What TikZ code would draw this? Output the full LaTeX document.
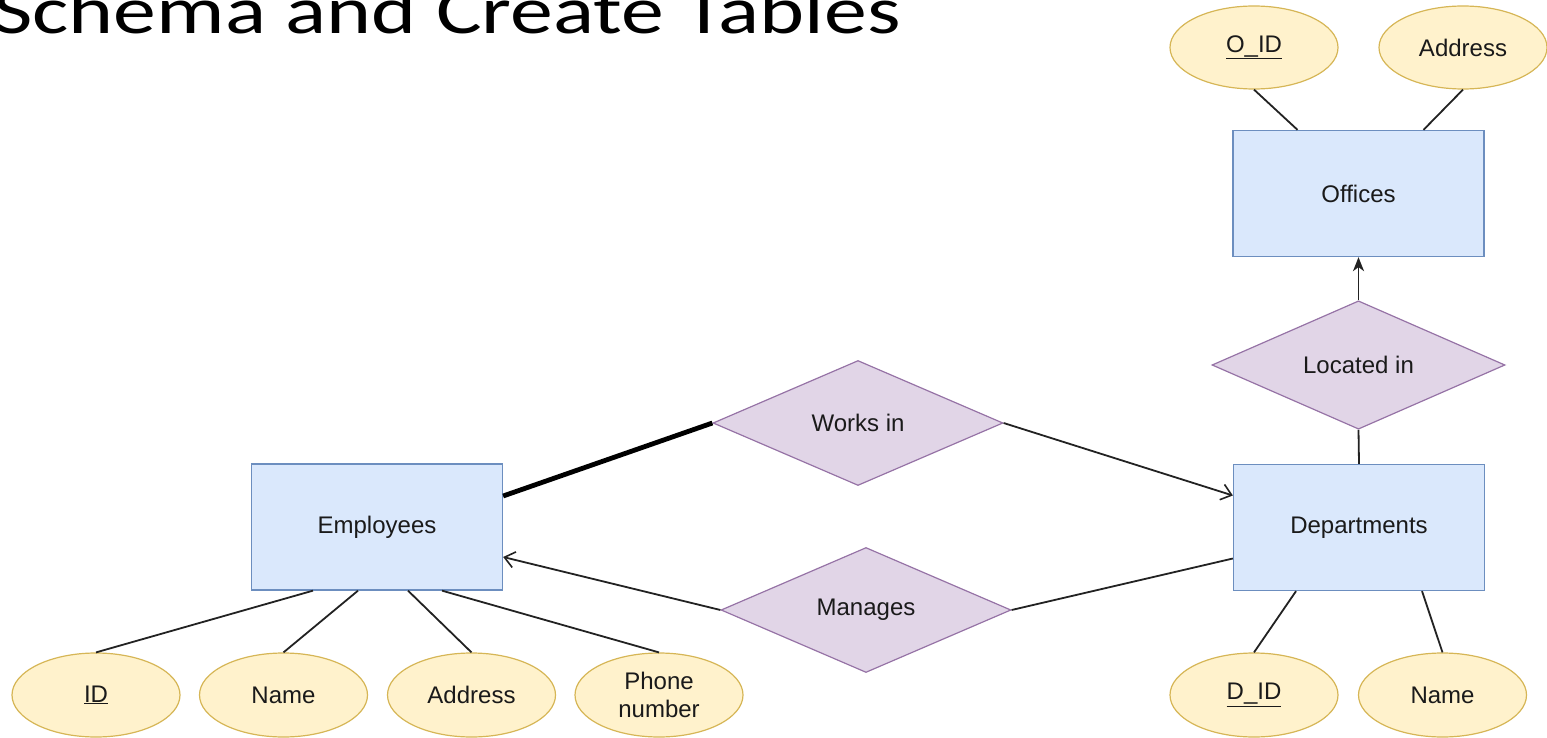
\documentclass[tikz,border=0pt]{standalone}
\usepackage{graphicx}
\usepackage{fontspec}
\setmainfont{Liberation Sans}
\newfontfamily\titlefont{Carlito}
\usetikzlibrary{shapes.geometric,arrows.meta,calc}

\definecolor{entfill}{HTML}{DAE8FC}
\definecolor{entline}{HTML}{6C8EBF}
\definecolor{attfill}{HTML}{FFF2CC}
\definecolor{attline}{HTML}{D6B656}
\definecolor{relfill}{HTML}{E1D5E7}
\definecolor{relline}{HTML}{9673A6}
\definecolor{ink}{HTML}{1A1A1A}
\definecolor{wire}{HTML}{222222}

\begin{document}
\begin{tikzpicture}[x=1pt,y=-1pt,
  every node/.style={font=\fontsize{24}{28}\selectfont, text=ink, inner sep=0pt},
  entity/.style={rectangle, draw=entline, fill=entfill, line width=1.3pt,
    minimum width=251pt, minimum height=126pt},
  attr/.style={ellipse, draw=attline, fill=attfill, line width=1.2pt,
    minimum width=168pt, minimum height=84pt, align=center},
  rel/.style={diamond, draw=relline, fill=relfill, line width=1.2pt,
    minimum width=290pt, minimum height=125pt},
  link/.style={draw=wire, line width=1.8pt},
  openhead/.style={-{Straight Barb[length=10pt,width=16pt,line width=1.6pt]}},
  solidhead/.style={-{Stealth[length=14pt,width=11pt,inset=4pt]}}
]
\useasboundingbox (0,0) rectangle (1547,738);

% heading
\node[anchor=base west, text=black, font=\titlefont\fontsize{67}{80}\selectfont]
  (title) at (-7,34) {\scalebox{1.28}[1]{Schema and Create Tables}};

% entities
\node[entity] (emp)  at (377,527)    {Employees};
\node[entity] (dept) at (1359,527.5) {Departments};
\node[entity] (off)  at (1358.5,193.5) {Offices};

% relationships
\node[rel] (works)   at (858,423)     {Works in};
\node[rel] (manages) at (866,610)     {Manages};
\node[rel, minimum width=293pt, minimum height=124pt] (loc) at (1358.5,365) {Located in};

% attributes
\node[attr] (eid)    at (96,695)    {\underline{ID}};
\node[attr] (ename)  at (283.5,695) {Name};
\node[attr] (eaddr)  at (471.5,695) {Address};
\node[attr] (ephone) at (659,695)   {Phone\\number};
\node[attr] (did)    at (1254,695)   {\underline{D\_ID}};
\node[attr] (dname)  at (1442.5,695) {Name};
\node[attr, minimum height=83pt] (oid)   at (1254,47.5) {\underline{O\_ID}};
\node[attr, minimum height=83pt] (oaddr) at (1463,47.5) {Address};

% attribute links
\draw[link] ($(emp.south)+(-64,0)$) -- (eid.north);
\draw[link] ($(emp.south)+(-19,0)$) -- (ename.north);
\draw[link] ($(emp.south)+(31,0)$)  -- (eaddr.north);
\draw[link] ($(emp.south)+(65,0)$)  -- (ephone.north);
\draw[link] ($(dept.south)+(-63,0)$) -- (did.north);
\draw[link] ($(dept.south)+(63,0)$)  -- (dname.north);
\draw[link] ($(off.north)+(-61,0)$) -- (oid.south);
\draw[link] ($(off.north)+(65,0)$)  -- (oaddr.south);

% relationship links
\draw[link, draw=black, line width=4.8pt] ($(emp.east)+(0,-31)$) -- (works.west);
\draw[link, openhead] (works.east) -- ($(dept.west)+(0,-32)$);
\draw[link, openhead] (manages.west) -- ($(emp.east)+(0,30)$);
\draw[link] (manages.east) -- ($(dept.west)+(0,31)$);
\draw[link, solidhead] (loc.north) -- (off.south);
\draw[link] (loc.south) -- (dept.north);
\end{tikzpicture}
\end{document}
